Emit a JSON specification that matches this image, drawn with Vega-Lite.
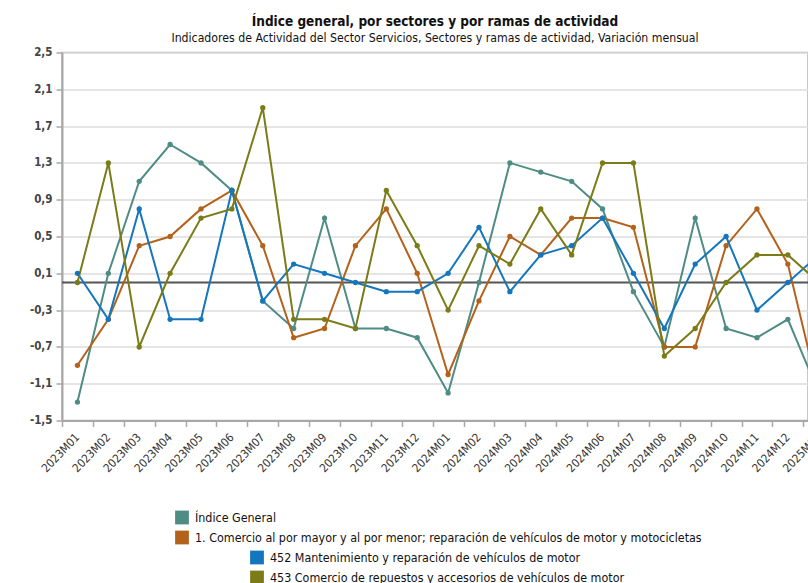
{
  "$schema": "https://vega.github.io/schema/vega-lite/v6.json",
  "autosize": {"type": "none"},
  "width": 746,
  "height": 368,
  "padding": {"left": 62, "top": 52.5, "right": 0, "bottom": 162.5},
  "background": "#ffffff",
  "title": {
    "text": "Índice general, por sectores y por ramas de actividad",
    "subtitle": "Indicadores de Actividad del Sector Servicios, Sectores y ramas de actividad, Variación mensual",
    "anchor": "middle",
    "frame": "group",
    "font": "Liberation Sans Narrow, DejaVu Sans Condensed, Arial",
    "fontSize": 13.5,
    "fontWeight": "bold",
    "color": "#111111",
    "subtitleFont": "Liberation Sans Narrow, DejaVu Sans Condensed, Arial",
    "subtitleFontSize": 12.2,
    "subtitleColor": "#111111",
    "subtitlePadding": 4,
    "offset": 2
  },
  "config": {
    "view": {"stroke": "#b5b5b5", "strokeWidth": 1.5},
    "legend": {
      "title": null,
      "symbolType": "square",
      "symbolSize": 190,
      "symbolStrokeWidth": 0,
      "labelFont": "Liberation Sans Narrow, DejaVu Sans Condensed, Arial",
      "labelFontSize": 12.4,
      "labelColor": "#111111",
      "labelLimit": 1000,
      "rowPadding": 6,
      "labelOffset": 6
    }
  },
  "datasets": {
    "serie": [
      {"mes": "2023M01", "serie": "Índice General", "valor": -1.3},
      {"mes": "2023M02", "serie": "Índice General", "valor": 0.1},
      {"mes": "2023M03", "serie": "Índice General", "valor": 1.1},
      {"mes": "2023M04", "serie": "Índice General", "valor": 1.5},
      {"mes": "2023M05", "serie": "Índice General", "valor": 1.3},
      {"mes": "2023M06", "serie": "Índice General", "valor": 1.0},
      {"mes": "2023M07", "serie": "Índice General", "valor": -0.2},
      {"mes": "2023M08", "serie": "Índice General", "valor": -0.5},
      {"mes": "2023M09", "serie": "Índice General", "valor": 0.7},
      {"mes": "2023M10", "serie": "Índice General", "valor": -0.5},
      {"mes": "2023M11", "serie": "Índice General", "valor": -0.5},
      {"mes": "2023M12", "serie": "Índice General", "valor": -0.6},
      {"mes": "2024M01", "serie": "Índice General", "valor": -1.2},
      {"mes": "2024M02", "serie": "Índice General", "valor": 0.0},
      {"mes": "2024M03", "serie": "Índice General", "valor": 1.3},
      {"mes": "2024M04", "serie": "Índice General", "valor": 1.2},
      {"mes": "2024M05", "serie": "Índice General", "valor": 1.1},
      {"mes": "2024M06", "serie": "Índice General", "valor": 0.8},
      {"mes": "2024M07", "serie": "Índice General", "valor": -0.1},
      {"mes": "2024M08", "serie": "Índice General", "valor": -0.7},
      {"mes": "2024M09", "serie": "Índice General", "valor": 0.7},
      {"mes": "2024M10", "serie": "Índice General", "valor": -0.5},
      {"mes": "2024M11", "serie": "Índice General", "valor": -0.6},
      {"mes": "2024M12", "serie": "Índice General", "valor": -0.4},
      {"mes": "2025M01", "serie": "Índice General", "valor": -1.2},
      {"mes": "2023M01", "serie": "1. Comercio al por mayor y al por menor; reparación de vehículos de motor y motocicletas", "valor": -0.9},
      {"mes": "2023M02", "serie": "1. Comercio al por mayor y al por menor; reparación de vehículos de motor y motocicletas", "valor": -0.4},
      {"mes": "2023M03", "serie": "1. Comercio al por mayor y al por menor; reparación de vehículos de motor y motocicletas", "valor": 0.4},
      {"mes": "2023M04", "serie": "1. Comercio al por mayor y al por menor; reparación de vehículos de motor y motocicletas", "valor": 0.5},
      {"mes": "2023M05", "serie": "1. Comercio al por mayor y al por menor; reparación de vehículos de motor y motocicletas", "valor": 0.8},
      {"mes": "2023M06", "serie": "1. Comercio al por mayor y al por menor; reparación de vehículos de motor y motocicletas", "valor": 1.0},
      {"mes": "2023M07", "serie": "1. Comercio al por mayor y al por menor; reparación de vehículos de motor y motocicletas", "valor": 0.4},
      {"mes": "2023M08", "serie": "1. Comercio al por mayor y al por menor; reparación de vehículos de motor y motocicletas", "valor": -0.6},
      {"mes": "2023M09", "serie": "1. Comercio al por mayor y al por menor; reparación de vehículos de motor y motocicletas", "valor": -0.5},
      {"mes": "2023M10", "serie": "1. Comercio al por mayor y al por menor; reparación de vehículos de motor y motocicletas", "valor": 0.4},
      {"mes": "2023M11", "serie": "1. Comercio al por mayor y al por menor; reparación de vehículos de motor y motocicletas", "valor": 0.8},
      {"mes": "2023M12", "serie": "1. Comercio al por mayor y al por menor; reparación de vehículos de motor y motocicletas", "valor": 0.1},
      {"mes": "2024M01", "serie": "1. Comercio al por mayor y al por menor; reparación de vehículos de motor y motocicletas", "valor": -1.0},
      {"mes": "2024M02", "serie": "1. Comercio al por mayor y al por menor; reparación de vehículos de motor y motocicletas", "valor": -0.2},
      {"mes": "2024M03", "serie": "1. Comercio al por mayor y al por menor; reparación de vehículos de motor y motocicletas", "valor": 0.5},
      {"mes": "2024M04", "serie": "1. Comercio al por mayor y al por menor; reparación de vehículos de motor y motocicletas", "valor": 0.3},
      {"mes": "2024M05", "serie": "1. Comercio al por mayor y al por menor; reparación de vehículos de motor y motocicletas", "valor": 0.7},
      {"mes": "2024M06", "serie": "1. Comercio al por mayor y al por menor; reparación de vehículos de motor y motocicletas", "valor": 0.7},
      {"mes": "2024M07", "serie": "1. Comercio al por mayor y al por menor; reparación de vehículos de motor y motocicletas", "valor": 0.6},
      {"mes": "2024M08", "serie": "1. Comercio al por mayor y al por menor; reparación de vehículos de motor y motocicletas", "valor": -0.7},
      {"mes": "2024M09", "serie": "1. Comercio al por mayor y al por menor; reparación de vehículos de motor y motocicletas", "valor": -0.7},
      {"mes": "2024M10", "serie": "1. Comercio al por mayor y al por menor; reparación de vehículos de motor y motocicletas", "valor": 0.4},
      {"mes": "2024M11", "serie": "1. Comercio al por mayor y al por menor; reparación de vehículos de motor y motocicletas", "valor": 0.8},
      {"mes": "2024M12", "serie": "1. Comercio al por mayor y al por menor; reparación de vehículos de motor y motocicletas", "valor": 0.2},
      {"mes": "2025M01", "serie": "1. Comercio al por mayor y al por menor; reparación de vehículos de motor y motocicletas", "valor": -1.2},
      {"mes": "2023M01", "serie": "452 Mantenimiento y reparación de vehículos de motor", "valor": 0.1},
      {"mes": "2023M02", "serie": "452 Mantenimiento y reparación de vehículos de motor", "valor": -0.4},
      {"mes": "2023M03", "serie": "452 Mantenimiento y reparación de vehículos de motor", "valor": 0.8},
      {"mes": "2023M04", "serie": "452 Mantenimiento y reparación de vehículos de motor", "valor": -0.4},
      {"mes": "2023M05", "serie": "452 Mantenimiento y reparación de vehículos de motor", "valor": -0.4},
      {"mes": "2023M06", "serie": "452 Mantenimiento y reparación de vehículos de motor", "valor": 1.0},
      {"mes": "2023M07", "serie": "452 Mantenimiento y reparación de vehículos de motor", "valor": -0.2},
      {"mes": "2023M08", "serie": "452 Mantenimiento y reparación de vehículos de motor", "valor": 0.2},
      {"mes": "2023M09", "serie": "452 Mantenimiento y reparación de vehículos de motor", "valor": 0.1},
      {"mes": "2023M10", "serie": "452 Mantenimiento y reparación de vehículos de motor", "valor": 0.0},
      {"mes": "2023M11", "serie": "452 Mantenimiento y reparación de vehículos de motor", "valor": -0.1},
      {"mes": "2023M12", "serie": "452 Mantenimiento y reparación de vehículos de motor", "valor": -0.1},
      {"mes": "2024M01", "serie": "452 Mantenimiento y reparación de vehículos de motor", "valor": 0.1},
      {"mes": "2024M02", "serie": "452 Mantenimiento y reparación de vehículos de motor", "valor": 0.6},
      {"mes": "2024M03", "serie": "452 Mantenimiento y reparación de vehículos de motor", "valor": -0.1},
      {"mes": "2024M04", "serie": "452 Mantenimiento y reparación de vehículos de motor", "valor": 0.3},
      {"mes": "2024M05", "serie": "452 Mantenimiento y reparación de vehículos de motor", "valor": 0.4},
      {"mes": "2024M06", "serie": "452 Mantenimiento y reparación de vehículos de motor", "valor": 0.7},
      {"mes": "2024M07", "serie": "452 Mantenimiento y reparación de vehículos de motor", "valor": 0.1},
      {"mes": "2024M08", "serie": "452 Mantenimiento y reparación de vehículos de motor", "valor": -0.5},
      {"mes": "2024M09", "serie": "452 Mantenimiento y reparación de vehículos de motor", "valor": 0.2},
      {"mes": "2024M10", "serie": "452 Mantenimiento y reparación de vehículos de motor", "valor": 0.5},
      {"mes": "2024M11", "serie": "452 Mantenimiento y reparación de vehículos de motor", "valor": -0.3},
      {"mes": "2024M12", "serie": "452 Mantenimiento y reparación de vehículos de motor", "valor": 0.0},
      {"mes": "2025M01", "serie": "452 Mantenimiento y reparación de vehículos de motor", "valor": 0.3},
      {"mes": "2023M01", "serie": "453 Comercio de repuestos y accesorios de vehículos de motor", "valor": 0.0},
      {"mes": "2023M02", "serie": "453 Comercio de repuestos y accesorios de vehículos de motor", "valor": 1.3},
      {"mes": "2023M03", "serie": "453 Comercio de repuestos y accesorios de vehículos de motor", "valor": -0.7},
      {"mes": "2023M04", "serie": "453 Comercio de repuestos y accesorios de vehículos de motor", "valor": 0.1},
      {"mes": "2023M05", "serie": "453 Comercio de repuestos y accesorios de vehículos de motor", "valor": 0.7},
      {"mes": "2023M06", "serie": "453 Comercio de repuestos y accesorios de vehículos de motor", "valor": 0.8},
      {"mes": "2023M07", "serie": "453 Comercio de repuestos y accesorios de vehículos de motor", "valor": 1.9},
      {"mes": "2023M08", "serie": "453 Comercio de repuestos y accesorios de vehículos de motor", "valor": -0.4},
      {"mes": "2023M09", "serie": "453 Comercio de repuestos y accesorios de vehículos de motor", "valor": -0.4},
      {"mes": "2023M10", "serie": "453 Comercio de repuestos y accesorios de vehículos de motor", "valor": -0.5},
      {"mes": "2023M11", "serie": "453 Comercio de repuestos y accesorios de vehículos de motor", "valor": 1.0},
      {"mes": "2023M12", "serie": "453 Comercio de repuestos y accesorios de vehículos de motor", "valor": 0.4},
      {"mes": "2024M01", "serie": "453 Comercio de repuestos y accesorios de vehículos de motor", "valor": -0.3},
      {"mes": "2024M02", "serie": "453 Comercio de repuestos y accesorios de vehículos de motor", "valor": 0.4},
      {"mes": "2024M03", "serie": "453 Comercio de repuestos y accesorios de vehículos de motor", "valor": 0.2},
      {"mes": "2024M04", "serie": "453 Comercio de repuestos y accesorios de vehículos de motor", "valor": 0.8},
      {"mes": "2024M05", "serie": "453 Comercio de repuestos y accesorios de vehículos de motor", "valor": 0.3},
      {"mes": "2024M06", "serie": "453 Comercio de repuestos y accesorios de vehículos de motor", "valor": 1.3},
      {"mes": "2024M07", "serie": "453 Comercio de repuestos y accesorios de vehículos de motor", "valor": 1.3},
      {"mes": "2024M08", "serie": "453 Comercio de repuestos y accesorios de vehículos de motor", "valor": -0.8},
      {"mes": "2024M09", "serie": "453 Comercio de repuestos y accesorios de vehículos de motor", "valor": -0.5},
      {"mes": "2024M10", "serie": "453 Comercio de repuestos y accesorios de vehículos de motor", "valor": 0.0},
      {"mes": "2024M11", "serie": "453 Comercio de repuestos y accesorios de vehículos de motor", "valor": 0.3},
      {"mes": "2024M12", "serie": "453 Comercio de repuestos y accesorios de vehículos de motor", "valor": 0.3},
      {"mes": "2025M01", "serie": "453 Comercio de repuestos y accesorios de vehículos de motor", "valor": 0.0}
    ],
    "cero": [{"ref": 0}]
  },
  "data": {"name": "serie"},
  "encoding": {
    "x": {
      "field": "mes",
      "type": "ordinal",
      "sort": null,
      "scale": {"type": "band", "range": [0, 772.2], "paddingInner": 0, "paddingOuter": 0},
      "axis": {
        "title": null,
        "tickBand": "extent",
        "grid": false,
        "domainColor": "#a8a8a8",
        "domainWidth": 2,
        "tickColor": "#a8a8a8",
        "tickWidth": 1.5,
        "tickSize": 6,
        "labelAngle": -46,
        "labelFont": "Liberation Sans Narrow, DejaVu Sans Condensed, Arial",
        "labelFontSize": 11.5,
        "labelColor": "#333333",
        "labelPadding": 9
      }
    },
    "y": {
      "field": "valor",
      "type": "quantitative",
      "scale": {"domain": [-1.5, 2.5], "nice": false, "zero": false},
      "axis": {
        "title": null,
        "values": [-1.5, -1.1, -0.7, -0.3, 0.1, 0.5, 0.9, 1.3, 1.7, 2.1, 2.5],
        "labelExpr": "replace('' + datum.value, '.', ',')",
        "domainColor": "#a8a8a8",
        "domainWidth": 2,
        "tickColor": "#a8a8a8",
        "tickWidth": 1.5,
        "tickSize": 6,
        "gridColor": "#dcdcdc",
        "gridWidth": 1.5,
        "labelFont": "Liberation Sans Narrow, DejaVu Sans Condensed, Arial",
        "labelFontSize": 11.5,
        "labelFontWeight": "bold",
        "labelColor": "#444444",
        "labelPadding": 4
      }
    }
  },
  "layer": [
    {
      "data": {"name": "cero"},
      "mark": {"type": "rule", "color": "#555555", "strokeWidth": 2},
      "encoding": {"y": {"field": "ref", "type": "quantitative"}, "x": null}
    },
    {
      "transform": [{"filter": "datum.serie == 'Índice General' || indexof(datum.serie, '1. ') == 0"}],
      "encoding": {
        "color": {
          "field": "serie",
          "type": "nominal",
          "sort": null,
          "scale": {
            "domain": ["Índice General", "1. Comercio al por mayor y al por menor; reparación de vehículos de motor y motocicletas"],
            "range": ["#4e8c84", "#b4621b"]
          },
          "legend": {"orient": "none", "legendX": 113, "legendY": 458, "direction": "vertical"}
        }
      },
      "layer": [
        {"mark": {"type": "line", "strokeWidth": 2}},
        {"mark": {"type": "point", "filled": true, "size": 28, "opacity": 1}}
      ]
    },
    {
      "transform": [{"filter": "indexof(datum.serie, '45') == 0"}],
      "encoding": {
        "color": {
          "field": "serie",
          "type": "nominal",
          "sort": null,
          "scale": {
            "domain": ["452 Mantenimiento y reparación de vehículos de motor", "453 Comercio de repuestos y accesorios de vehículos de motor"],
            "range": ["#1477bd", "#7b7b18"]
          },
          "legend": {"orient": "none", "legendX": 188, "legendY": 498, "direction": "vertical"}
        }
      },
      "layer": [
        {"mark": {"type": "line", "strokeWidth": 2}},
        {"mark": {"type": "point", "filled": true, "size": 28, "opacity": 1}}
      ]
    }
  ],
  "resolve": {"scale": {"color": "independent"}, "legend": {"color": "independent"}}
}
